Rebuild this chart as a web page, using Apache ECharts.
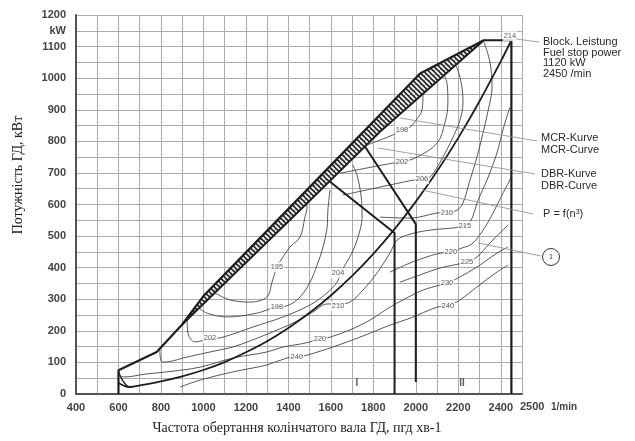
<!DOCTYPE html>
<html><head><meta charset="utf-8">
<script src="https://cdn.jsdelivr.net/npm/echarts@6/dist/echarts.min.js"></script>
<style>html,body{margin:0;padding:0;background:#fff}#c{width:635px;height:441px}</style>
</head><body><div id="c"></div>
<script>
// ---- axis ticks ----
const xTickLabels = [400,600,800,1000,1200,1400,1600,1800,2000,2200,2400];
const xEndLabel = '2500';
const yTickLabels = [0,100,200,300,400,500,600,700,800,900,1000,1100,1200];

// ---- thick boundary curves (rpm, kW) ----
const fuelLimit = [[600,0],[600,75],[780,133],[900,220],[1000,310],[1500,655],[2020,1015],[2320,1120],[2450,1120],[2450,0]];
const hatchUpper = [[900,220],[1000,310],[1500,655],[2020,1015],[2320,1120]];
const hatchLower = [[900,220],[1500,612],[1831,830],[2320,1120]];
const dbrCurve = [[1596,672],[1900,510],[1900,0]];
const mcrCurve = [[1762,782],[2000,538],[2000,38]];
const propCurve = [[600,35],[650,22],[700,27],[800,40],[900,56],[1000,76],[1100,101],[1200,132],[1300,167],[1400,209],[1500,257],[1600,312],[1700,374],[1800,444],[1900,522],[2000,609],[2100,705],[2200,811],[2300,927],[2400,1053],[2450,1120]];
const lowLoop = [[600,72],[612,52],[628,35],[645,24],[660,22]];

// ---- fuel consumption contours (rpm, kW) ----
const c195 = [[1054,320],[1125,298],[1219,291],[1299,307],[1323,354],[1346,402],[1375,434],[1407,465],[1455,497],[1478,560],[1488,592],[1478,614]];
const c198 = [[974,275],[1017,256],[1111,244],[1252,256],[1337,275],[1393,279],[1455,307],[1502,354],[1535,408],[1563,465],[1582,525],[1586,582],[1596,646]];
const c202 = [[923,241],[927,193],[960,165],[1031,174],[1092,180],[1233,212],[1375,244],[1502,282],[1582,320],[1629,354],[1643,377],[1666,408],[1699,446],[1728,497],[1747,560],[1742,630],[1723,693],[1704,725]];
const c210 = [[795,139],[805,101],[852,104],[904,114],[1031,133],[1139,149],[1219,168],[1313,193],[1422,225],[1516,260],[1582,285],[1634,285],[1690,291],[1751,329],[1817,383],[1878,446],[1911,487],[1973,506],[2067,519],[2208,529],[2255,544],[2293,614],[2335,677],[2382,763],[2410,836],[2443,908]];
const c198u = [[1770,788],[1831,804],[1892,820],[1935,836],[1973,845],[2001,867],[2029,899],[2034,950]];
const c202u = [[1643,699],[1892,731],[1935,734],[2005,750],[2100,794],[2137,858],[2151,921],[2147,984],[2114,1032]];
const c206 = [[1657,630],[1831,655],[1987,677],[2029,680],[2067,687],[2100,718],[2128,750],[2175,813],[2208,867],[2222,921],[2217,972],[2198,1025],[2170,1063]];
const c210u = [[1831,560],[1973,557],[2100,573],[2151,576],[2194,582],[2222,605],[2255,677],[2288,750],[2316,826],[2344,908],[2359,972],[2349,1051],[2321,1114]];
const c220u = [[1878,386],[1973,415],[2034,430],[2114,446],[2161,449],[2217,462],[2264,475],[2311,513],[2359,567],[2406,630],[2448,684]];
const c225 = [[1925,354],[2020,377],[2114,399],[2241,418],[2288,434],[2349,478],[2396,510],[2434,535]];
const c230 = [[610,55],[631,54],[725,63],[828,70],[984,85],[1139,114],[1299,133],[1375,149],[1455,158],[1502,165],[1549,174],[1596,180],[1690,203],[1784,234],[1878,275],[1940,298],[2034,329],[2114,345],[2147,351],[2198,367],[2288,402],[2382,446],[2434,465]];
const c240 = [[890,22],[984,44],[1139,70],[1299,92],[1393,114],[1440,117],[1488,123],[1610,149],[1737,180],[1878,218],[1973,240],[2100,275],[2151,279],[2208,298],[2288,339],[2382,386],[2434,408]];

// ---- contour labels (rpm, kW, text) ----
const contourLabels = [
  [1346,402,'195'],[1346,275,'198'],[1031,177,'202'],[1634,383,'204'],[1634,279,'210'],
  [1549,174,'220'],[1440,117,'240'],[1935,836,'198'],[1935,734,'202'],[2029,680,'206'],
  [2147,573,'210'],[2231,532,'215'],[2165,449,'220'],[2241,418,'225'],[2147,351,'230'],
  [2151,279,'240'],[2443,1133,'214']
];
const rangeLabels = [[1723,35,'I'],[2218,35,'II']];

// hatch pattern tile
const tile = document.createElement('canvas');
tile.width = 5; tile.height = 5;
const tc = tile.getContext('2d');
tc.fillStyle = '#2e2e2e'; tc.fillRect(0,0,5,5);
tc.strokeStyle = '#ffffff'; tc.lineWidth = 1.7;
for (let k=-1;k<=1;k++){ tc.beginPath(); tc.moveTo(k*5,0); tc.lineTo(k*5+5,5); tc.stroke(); }

const chart = echarts.init(document.getElementById('c'), null, {renderer:'canvas'});
const thin = (d) => ({type:'line', data:d, showSymbol:false, smooth:0.35, silent:true, z:2,
  lineStyle:{color:'#454545', width:0.9}});
const thick = (d, w) => ({type:'line', data:d, showSymbol:false, silent:true, z:6,
  lineStyle:{color:'#1e1e1e', width:w||2}});
const propS = Object.assign(thick(propCurve,1.8), {smooth:0.3});

const sansLbl = {fontFamily:'Liberation Sans', fontWeight:'bold', fontSize:11, color:'#444'};
const txt = (x,y,t,extra) => ({type:'text', x:x, y:y, silent:true, z:50,
  style:Object.assign({text:t, fontFamily:'Liberation Sans', fontSize:11, fill:'#2a2a2a', textVerticalAlign:'middle'}, extra||{})});
const ln = (x1,y1,x2,y2) => ({type:'line', silent:true, z:50, shape:{x1,y1,x2,y2}, style:{stroke:'#8a8a8a', lineWidth:0.8}});
const labelSeries = (arr, lbl) => ({type:'scatter', data:arr.map(l => ({value:[l[0],l[1]], name:l[2]})),
  symbol:'circle', symbolSize:1, z:8, silent:true, itemStyle:{color:'rgba(0,0,0,0)'},
  label:Object.assign({show:true, position:'inside', formatter:p => p.name}, lbl)});

chart.setOption({
  animation:false,
  grid:{left:76, right:113, top:15, bottom:47},
  xAxis:{type:'value', min:400, max:2500, interval:100,
    axisLine:{show:true, onZero:false, lineStyle:{color:'#555', width:2}},
    axisTick:{show:false},
    axisLabel:Object.assign({margin:8, showMinLabel:true, showMaxLabel:false,
      formatter:v => xTickLabels.indexOf(v)>=0 ? String(v) : ''}, sansLbl),
    splitLine:{show:true, lineStyle:{color:'#ababab', width:1}}},
  yAxis:{type:'value', min:0, max:1200, interval:50,
    axisLine:{show:true, onZero:false, lineStyle:{color:'#555', width:2}},
    axisTick:{show:false},
    axisLabel:Object.assign({margin:10, showMaxLabel:true, formatter:v => yTickLabels.indexOf(v)>=0 ? String(v) : (v===1150?'kW':'')}, sansLbl),
    splitLine:{show:true, lineStyle:{color:'#ababab', width:1}}},
  series:[
    thin(c195), thin(c198), thin(c202), thin(c210), thin(c198u), thin(c202u), thin(c206),
    thin(c210u), thin(c220u), thin(c225), thin(c230), thin(c240),
    Object.assign(thin(lowLoop), {lineStyle:{color:'#2a2a2a', width:1.4}}),
    {type:'custom', silent:true, z:4, data:[0],
      renderItem:(params, api) => {
        const pts = hatchUpper.map(p => api.coord(p)).concat(hatchLower.slice().reverse().map(p => api.coord(p)));
        return {type:'polygon', shape:{points:pts}, style:{fill:{image:tile, repeat:'repeat'}, stroke:null}};
      }},
    thick(fuelLimit, 2.2), thick(hatchLower, 2), thick(dbrCurve, 2), thick(mcrCurve, 2), propS,
    labelSeries(contourLabels, {fontFamily:'Liberation Sans', fontSize:7.5, color:'#333', backgroundColor:'#fff', padding:[1,1]}),
    labelSeries(rangeLabels, {fontFamily:'Liberation Sans', fontWeight:'bold', fontSize:10, color:'#333'})
  ],
  graphic:[
    txt(18,175,'Потужність ГД, кВт',{fontFamily:'Liberation Serif', fontSize:14, textAlign:'center', fill:'#222'}),
    txt(297,428,'Частота обертання колінчатого вала ГД, пгд хв-1',{fontFamily:'Liberation Serif', fontSize:14, textAlign:'center', fill:'#222'}),
    txt(520,407,xEndLabel,{fontWeight:'bold', fontSize:11, fill:'#444'}),
    txt(551,407,'1/min',{fontWeight:'bold', fontSize:10, fill:'#444'}),
    txt(543,42,'Block. Leistung'), txt(543,52.5,'Fuel stop power'), txt(543,63,'1120 kW'), txt(543,73.5,'2450 /min'),
    txt(541,138,'MCR-Kurve'), txt(541,150,'MCR-Curve'),
    txt(541,174,'DBR-Kurve'), txt(541,186,'DBR-Curve'),
    {type:'text', x:543, y:214, silent:true, z:50, style:{text:'P = f(n{s|3})', rich:{s:{fontSize:7, verticalAlign:'top', fill:'#2a2a2a', fontFamily:'Liberation Sans'}}, fontFamily:'Liberation Sans', fontSize:11, fill:'#2a2a2a', textVerticalAlign:'middle'}},
    {type:'circle', silent:true, z:50, shape:{cx:551, cy:257, r:8.5}, style:{fill:'none', stroke:'#333', lineWidth:1}},
    txt(551,257,'1',{fontSize:7, textAlign:'center'}),
    ln(516,39,539,42), ln(537,141,400,118), ln(535,174,378,148), ln(533,214,422,190), ln(541,256,478,243)
  ]
});
// rotate y title
const opt = chart.getOption();
opt.graphic[0].elements[0].rotation = Math.PI/2;
chart.setOption({graphic:opt.graphic});
</script></body></html>
